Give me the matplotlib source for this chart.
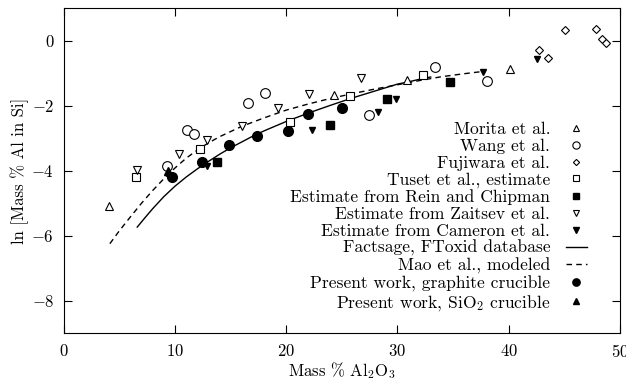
import matplotlib
matplotlib.use("Agg")
import matplotlib.pyplot as plt

plt.rcParams['font.family'] = 'serif'
plt.rcParams['font.serif'] = ['cmr10']
plt.rcParams['mathtext.fontset'] = 'cm'
plt.rcParams['axes.formatter.use_mathtext'] = True
plt.rcParams['axes.unicode_minus'] = True

# Data
morita_x = [4.05, 24.34, 30.87, 40.14]
morita_y = [-5.10, -1.66, -1.22, -0.86]

wang_x = [9.29, 11.09, 11.72, 16.58, 18.13, 27.46, 33.36, 38.07]
wang_y = [-3.87, -2.76, -2.89, -1.92, -1.61, -2.28, -0.81, -1.25]

fujiwara_x = [42.72, 43.53, 45.10, 47.87, 48.40, 48.74]
fujiwara_y = [-0.30, -0.55, 0.32, 0.36, 0.05, -0.07]

tuset_x = [6.47, 12.23, 20.35, 25.75, 32.31]
tuset_y = [-4.21, -3.35, -2.52, -1.72, -1.06]

rein_x = [13.76, 23.92, 29.07, 34.71]
rein_y = [-3.73, -2.59, -1.79, -1.28]

zaitsev_x = [6.60, 10.34, 12.86, 16.04, 19.30, 22.06, 26.77]
zaitsev_y = [-3.99, -3.48, -3.06, -2.62, -2.07, -1.64, -1.15]

cameron_x = [12.86, 22.36, 28.27, 29.90, 37.74, 42.56]
cameron_y = [-3.85, -2.76, -2.20, -1.79, -0.96, -0.58]

factsage_x = [6.6, 7.3, 8, 9, 10, 11, 12, 13, 14, 15, 16, 17, 18, 20, 22, 24, 26, 28, 30, 31, 32, 33]
factsage_y = [-5.74, -5.45, -5.17, -4.80, -4.48, -4.20, -3.95, -3.72, -3.50, -3.30, -3.12, -2.94, -2.78,
              -2.49, -2.23, -1.99, -1.76, -1.55, -1.34, -1.27, -1.19, -1.12]

mao_x = [4.14, 5, 6, 7, 8, 9, 10, 11, 12, 13, 14, 16, 18, 20, 22, 24, 26, 28, 30, 32, 34, 36, 37.7]
mao_y = [-6.25, -5.85, -5.42, -5.00, -4.61, -4.25, -3.92, -3.62, -3.37, -3.15, -2.96, -2.64, -2.38,
         -2.14, -1.95, -1.78, -1.63, -1.49, -1.36, -1.23, -1.11, -1.02, -0.95]

graphite_x = [9.77, 12.44, 14.87, 17.36, 20.17, 21.97, 25.00]
graphite_y = [-4.20, -3.73, -3.22, -2.94, -2.79, -2.26, -2.08]

sio2_x = [9.38]
sio2_y = [-4.02]

fig = plt.figure(figsize=(6.26, 3.85), dpi=100)
ax = fig.add_axes([0.102, 0.135, 0.888, 0.844])

ax.plot(factsage_x, factsage_y, '-', color='black', lw=1.0, label='Factsage, FToxid database')
ax.plot(mao_x, mao_y, '--', color='black', lw=1.0, dashes=(4, 3), label='Mao et al., modeled')

ax.plot(morita_x, morita_y, '^', ms=5.5, mfc='white', mec='black', mew=0.8, ls='none', label='Morita et al.')
ax.plot(wang_x, wang_y, 'o', ms=7, mfc='white', mec='black', mew=0.8, ls='none', label='Wang et al.')
ax.plot(fujiwara_x, fujiwara_y, 'D', ms=4.2, mfc='white', mec='black', mew=0.8, ls='none', label='Fujiwara et al.')
ax.plot(tuset_x, tuset_y, 's', ms=5.5, mfc='white', mec='black', mew=0.8, ls='none', label='Tuset et al., estimate')
ax.plot(rein_x, rein_y, 's', ms=5.5, color='black', ls='none', label='Estimate from Rein and Chipman')
ax.plot(zaitsev_x, zaitsev_y, 'v', ms=5.5, mfc='white', mec='black', mew=0.8, ls='none', label='Estimate from Zaitsev et al.')
ax.plot(cameron_x, cameron_y, 'v', ms=5, color='black', ls='none', label='Estimate from Cameron et al.')
ax.plot(graphite_x, graphite_y, 'o', ms=7, color='black', ls='none', label='Present work, graphite crucible')
ax.plot(sio2_x, sio2_y, '^', ms=5.5, color='black', ls='none', label='Present work, SiO$_2$ crucible')

handles, labels = ax.get_legend_handles_labels()
order = ['Morita et al.', 'Wang et al.', 'Fujiwara et al.', 'Tuset et al., estimate',
         'Estimate from Rein and Chipman', 'Estimate from Zaitsev et al.',
         'Estimate from Cameron et al.', 'Factsage, FToxid database',
         'Mao et al., modeled', 'Present work, graphite crucible',
         'Present work, SiO$_2$ crucible']
hd = dict(zip(labels, handles))
ax.legend([hd[l] for l in order], order, loc='lower right', bbox_to_anchor=(0.963, 0.024),
          frameon=False, markerfirst=False, fontsize=12.6, labelspacing=0.08,
          handlelength=1.2, handletextpad=0.9, markerscale=0.75, borderpad=0.2)

ax.set_xlim(0, 50)
ax.set_ylim(-9, 1)
ax.set_xticks([0, 10, 20, 30, 40, 50])
ax.set_yticks([0, -2, -4, -6, -8])
ax.tick_params(direction='in', top=True, right=True, length=6, width=0.8, labelsize=12, pad=7)
for s in ax.spines.values():
    s.set_linewidth(0.8)
ax.set_xlabel('Mass % Al$_2$O$_3$', fontsize=12, labelpad=0)
ax.set_ylabel('ln [Mass % Al in Si]', fontsize=12, labelpad=2)

fig.savefig('out.png', dpi=100)
